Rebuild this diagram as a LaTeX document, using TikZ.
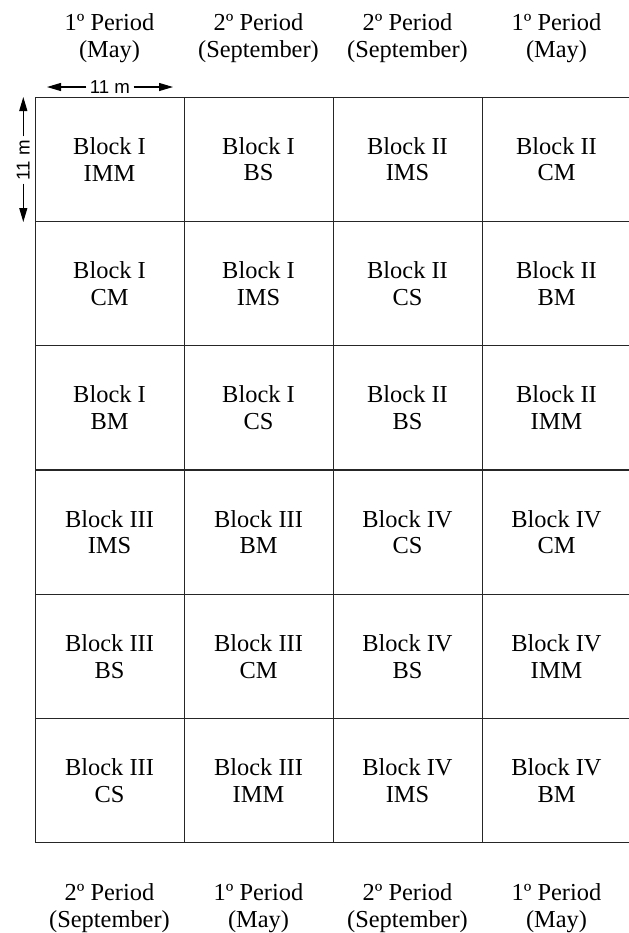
\documentclass[tikz,border=0pt]{standalone}
\usepackage{fontspec}
\setmainfont{Liberation Serif}
\newfontfamily\dimfont{Liberation Sans}
\usetikzlibrary{arrows.meta}

\begin{document}
\begin{tikzpicture}[x=0.75pt,y=-0.75pt,
  plot/.style={draw=black!85,line width=0.75pt,minimum width=111.75pt,minimum height=93.25pt,inner sep=0pt,align=center,font=\fontsize{18.3}{20}\selectfont},
  period/.style={align=center,inner sep=0pt,font=\fontsize{18.3}{20}\selectfont},
  dim/.style={font=\dimfont\fontsize{14}{16}\selectfont,inner sep=2.5pt},
  dimarrow/.style={-{Triangle[length=10.5pt,width=6pt]},line width=0.8pt}]
  \useasboundingbox (0,0) rectangle (629,933);
  % periods above the field
  \node[period] (topa) at (109.5,38) {1º Period\\(May)};
  \node[period] (topb) at (258.5,38) {2º Period\\(September)};
  \node[period] (topc) at (407.5,38) {2º Period\\(September)};
  \node[period] (topd) at (556.5,38) {1º Period\\(May)};
  % plots
  \node[plot] (b1imm) at (109.5,159.2) {Block I\\IMM};
  \node[plot] (b1bs) at (258.5,159.2) {Block I\\BS};
  \node[plot] (b2ims) at (407.5,159.2) {Block II\\IMS};
  \node[plot] (b2cm) at (556.5,159.2) {Block II\\CM};
  \node[plot] (b1cm) at (109.5,283.5) {Block I\\CM};
  \node[plot] (b1ims) at (258.5,283.5) {Block I\\IMS};
  \node[plot] (b2cs) at (407.5,283.5) {Block II\\CS};
  \node[plot] (b2bm) at (556.5,283.5) {Block II\\BM};
  \node[plot] (b1bm) at (109.5,407.8) {Block I\\BM};
  \node[plot] (b1cs) at (258.5,407.8) {Block I\\CS};
  \node[plot] (b2bs) at (407.5,407.8) {Block II\\BS};
  \node[plot] (b2imm) at (556.5,407.8) {Block II\\IMM};
  \node[plot] (b3ims) at (109.5,532.2) {Block III\\IMS};
  \node[plot] (b3bm) at (258.5,532.2) {Block III\\BM};
  \node[plot] (b4cs) at (407.5,532.2) {Block IV\\CS};
  \node[plot] (b4cm) at (556.5,532.2) {Block IV\\CM};
  \node[plot] (b3bs) at (109.5,656.5) {Block III\\BS};
  \node[plot] (b3cm) at (258.5,656.5) {Block III\\CM};
  \node[plot] (b4bs) at (407.5,656.5) {Block IV\\BS};
  \node[plot] (b4imm) at (556.5,656.5) {Block IV\\IMM};
  \node[plot] (b3cs) at (109.5,780.8) {Block III\\CS};
  \node[plot] (b3imm) at (258.5,780.8) {Block III\\IMM};
  \node[plot] (b4ims) at (407.5,780.8) {Block IV\\IMS};
  \node[plot] (b4bm) at (556.5,780.8) {Block IV\\BM};
  % periods below the field
  \node[period] (bota) at (109.5,908.4) {2º Period\\(September)};
  \node[period] (botb) at (258.5,908.4) {1º Period\\(May)};
  \node[period] (botc) at (407.5,908.4) {2º Period\\(September)};
  \node[period] (botd) at (556.5,908.4) {1º Period\\(May)};
  % plot size
  \node[dim] (hdim) at (110,87) {11 m};
  \coordinate (hl) at (47,87);
  \coordinate (hr) at (173,87);
  \draw[dimarrow] (hdim.west) -- (hl);
  \draw[dimarrow] (hdim.east) -- (hr);
  \node[dim,rotate=90] (vdim) at (23.3,160) {11 m};
  \coordinate (vt) at (23.3,97);
  \coordinate (vb) at (23.3,222);
  \draw[dimarrow] (vdim.east) -- (vt);
  \draw[dimarrow] (vdim.west) -- (vb);
\end{tikzpicture}
\end{document}
